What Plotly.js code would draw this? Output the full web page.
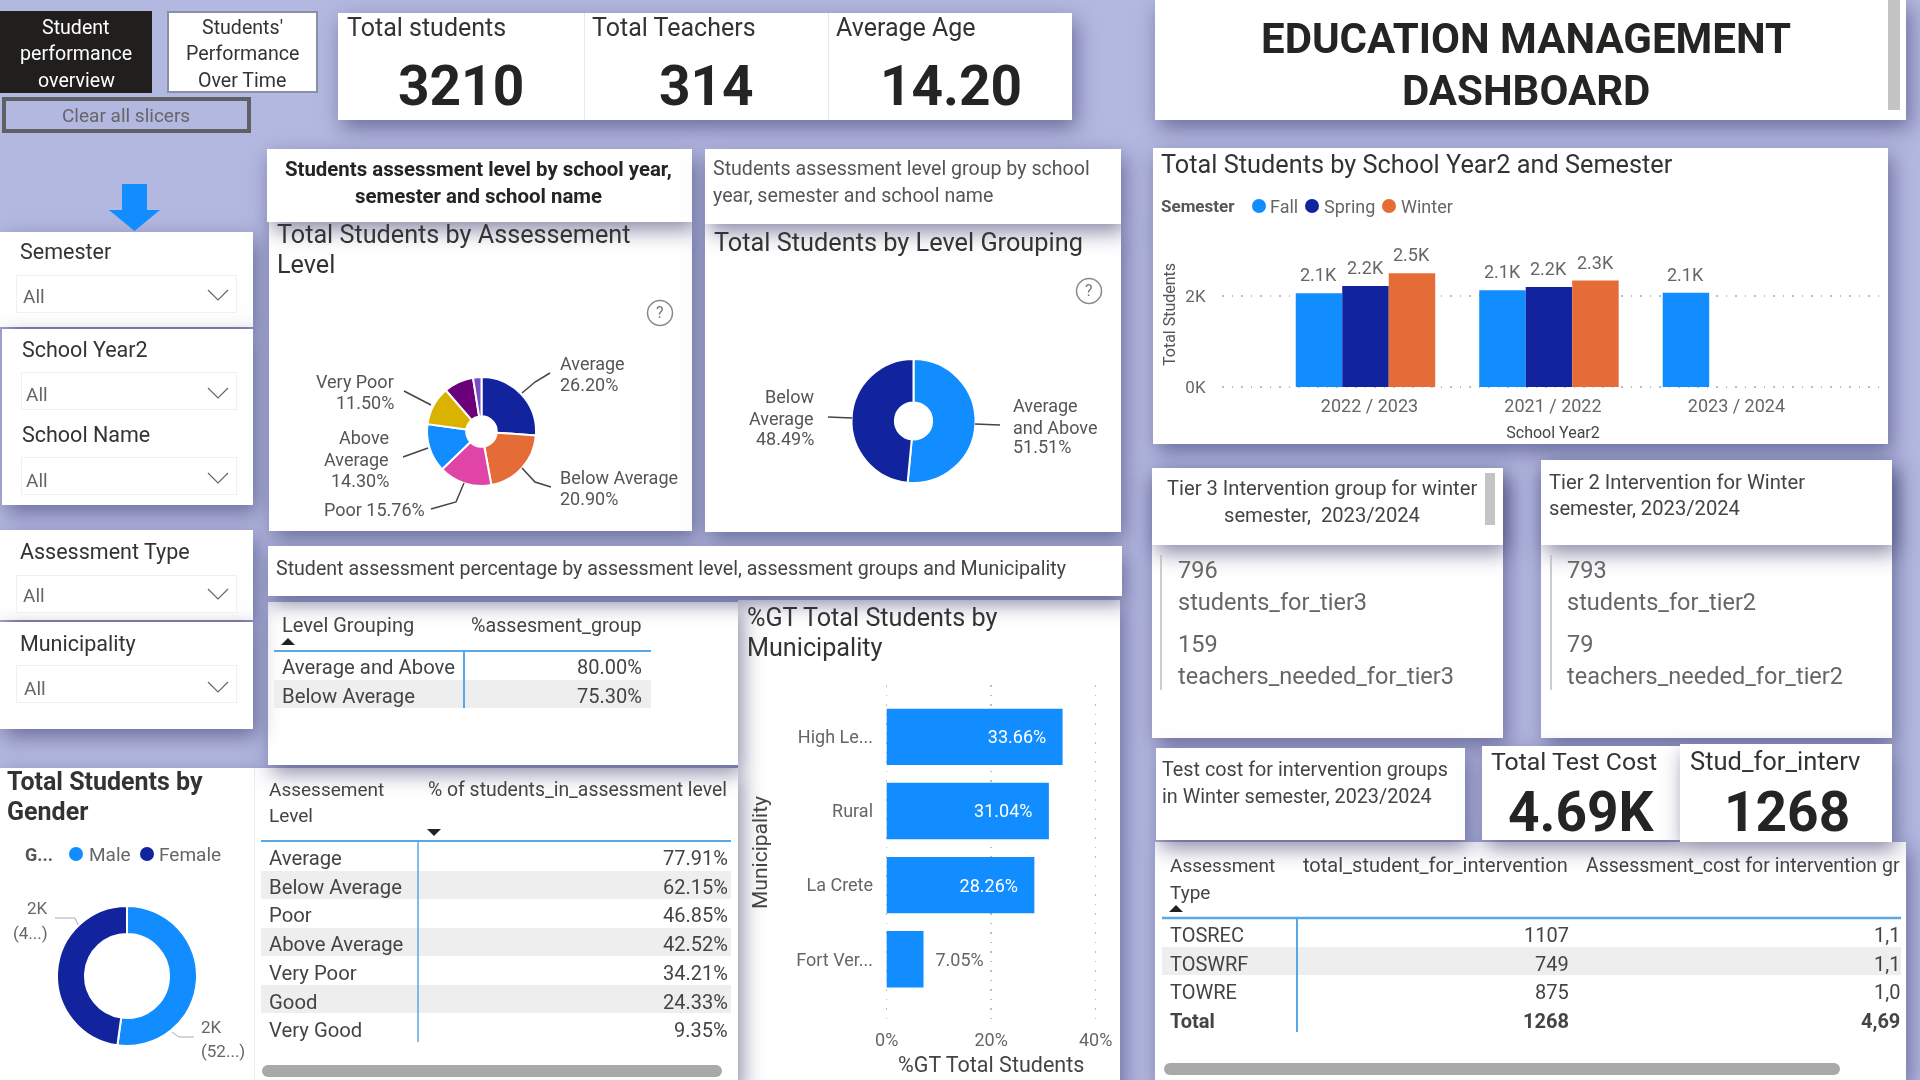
<!DOCTYPE html>
<html><head><meta charset="utf-8">
<script src="https://cdn.plot.ly/plotly-3.0.1.min.js"></script>
<style>
html,body{margin:0;padding:0;background:#b3b8e0;overflow:hidden}
#stage{position:relative;width:1920px;height:1080px;background:#b3b8e0;overflow:hidden;filter:blur(0.45px)}
#stage div.p{position:absolute;background:#fff}
#chart{position:absolute;left:0;top:0;width:1920px;height:1080px}
</style></head><body><div id="stage"><div id="chart"></div></div>
<script>
// ---------- data ----------
const levelLabels = ['Average','Below Average','Poor','Above Average','Very Poor','Good','Very Good'];
const levelShares = [26.20,20.90,15.76,14.30,11.50,8.84,2.50];
const levelColors = ['#12239E','#E66C37','#E044A7','#118DFF','#D9B300','#6B007B','#744EC2'];
const groupLabels = ['Average and Above','Below Average'];
const groupShares = [51.51,48.49];
const genderLabels = ['Male','Female'];
const genderShares = [52.2,47.8];
const schoolYears = ['2022 / 2023','2021 / 2022','2023 / 2024'];
const fallStudents = [2059,2125,2073];
const springStudents = [2220,2198,null];
const winterStudents = [2499,2340,null];
const municipalities = ['High Le...','Rural','La Crete','Fort Ver...'];
const municipalityShares = [33.66,31.04,28.26,7.05];
const groupTableNames = ['Average and Above','Below Average'];
const groupTableValues = ['80.00%','75.30%'];
const levelTableNames = ['Average','Below Average','Poor','Above Average','Very Poor','Good','Very Good'];
const levelTableValues = ['77.91%','62.15%','46.85%','42.52%','34.21%','24.33%','9.35%'];
const interventionTypes = ['TOSREC','TOSWRF','TOWRE','Total'];
const interventionStudents = ['1107','749','875','1268'];
const interventionCosts = ['1,1','1,1','1,0','4,69'];
const kpiTop = [['Total students','3210'],['Total Teachers','314'],['Average Age','14.20']];

// ---------- helpers ----------
const W=1920,H=1080, FONT='Roboto, sans-serif';
const px=x=>x/W, py=y=>1-y/H;
const anns=[], shapes=[];
function T(x,y,text,o={}){anns.push({x:px(x),y:py(y),xref:'paper',yref:'paper',text,showarrow:false,
  xanchor:o.a||'left',yanchor:'middle',align:o.a||'left',borderpad:0,
  font:{family:o.f||FONT,size:o.s||20,color:o.c||'#444',weight:o.b?700:400}});}
function L(pts,c='#444',w=1.5){const d=pts.map((p,i)=>(i?'L':'M')+px(p[0])+','+py(p[1])).join(' ');
  shapes.push({type:'path',xref:'paper',yref:'paper',path:d,line:{color:c,width:w}});}
function R(x0,y0,x1,y1,fill,layer='below'){shapes.push({type:'rect',xref:'paper',yref:'paper',x0:px(x0),x1:px(x1),y0:py(y0),y1:py(y1),fillcolor:fill,line:{width:0},layer});}
function Dot(x,y,r,c){shapes.push({type:'circle',xref:'paper',yref:'paper',x0:px(x-r),x1:px(x+r),y0:py(y+r),y1:py(y-r),fillcolor:c,line:{width:0}});}
function Ring(x,y,r){shapes.push({type:'circle',xref:'paper',yref:'paper',x0:px(x-r),x1:px(x+r),y0:py(y+r),y1:py(y-r),line:{color:'#8a8a8a',width:1.5}});T(x,y,'?',{a:'center',s:16,c:'#777'});}
function Tri(x,y,up){const s=up?-1:1;const d=`M${px(x-7)},${py(y-3*s)} L${px(x+7)},${py(y-3*s)} L${px(x)},${py(y+4*s)} Z`;
  shapes.push({type:'path',xref:'paper',yref:'paper',path:d,fillcolor:'#222',line:{width:0}});}
function Chev(x,y){L([[x-10,y-5],[x,y+5],[x+10,y-5]],'#666',1.2);}
function panel(x,y,w,h,o={}){const d=document.createElement('div');d.className='p';
  d.style.cssText=`left:${x}px;top:${y}px;width:${w}px;height:${h}px;box-shadow:${o.sh===0?'none':'4px 8px 20px rgba(60,60,110,.6)'};`+(o.css||'');
  document.getElementById('stage').insertBefore(d,document.getElementById('chart'));}

// ---------- panels (paint order) ----------
panel(738,600,382,490);
panel(0,768,738,320);
panel(254,768,1,312,{sh:0,css:'background:#ececec'});
panel(268,602,470,163);
panel(0,232,253,95);
panel(2,329,251,176);
panel(0,530,253,90);
panel(0,622,253,107);
panel(338,13,734,107);
panel(584,13,1,107,{sh:0,css:'background:#e8e8e8'});panel(828,13,1,107,{sh:0,css:'background:#e8e8e8'});
panel(1155,0,751,120);
panel(269,222,423,309);panel(267,149,425,73);
panel(705,224,416,308);panel(705,149,416,75);
panel(268,546,854,50);
panel(1153,148,735,296);
panel(1152,468,351,270);panel(1152,468,351,77);
panel(1541,460,351,278);panel(1541,460,351,85);
panel(1155,842,751,240);
panel(1156,748,309,92);panel(1482,746,198,94);panel(1680,744,212,98);
// dropdown boxes
[[16,275],[21,372],[21,457],[16,575],[16,665]].forEach(b=>panel(b[0],b[1],b[0]==16?221:216,38,{sh:0,css:'border:1px solid #f0f0f0;box-sizing:border-box'}));
// scroll bars
panel(262,1065,460,12,{sh:0,css:'background:#a9a9a9;border-radius:6px'});
panel(1164,1063,676,12,{sh:0,css:'background:#a9a9a9;border-radius:6px'});
panel(1888,0,12,110,{sh:0,css:'background:#c4c4c4'});
panel(1485,473,10,52,{sh:0,css:'background:#c4c4c4'});
// nav buttons
panel(0,11,152,82,{sh:0,css:'background:#201f1e'});
panel(167,11,151,82,{sh:0,css:'border:2px solid #8a8fa8;box-sizing:border-box'});
panel(2,97,249,36,{sh:0,css:'background:#b3b8e0;border:4px solid #5f6064;box-sizing:border-box'});

// ---------- text ----------
['Student','performance','overview'].forEach((t,i)=>T(76,27+i*26.5,t,{a:'center',c:'#fff',s:19.6}));
["Students'",'Performance','Over Time'].forEach((t,i)=>T(242,27+i*26.5,t,{a:'center',c:'#333',s:19.6}));
T(126,116,'Clear all slicers',{a:'center',c:'#666',s:19});
[346,591,835].forEach((x,i)=>{T(x,28,kpiTop[i][0],{s:25,c:'#333'});});
[461,706,951].forEach((x,i)=>{T(x,86,kpiTop[i][1],{a:'center',s:55,b:1,c:'#252423'});});
T(1526,38,'EDUCATION MANAGEMENT',{a:'center',s:42,b:1,c:'#252423'});
T(1526,90,'DASHBOARD',{a:'center',s:42,b:1,c:'#252423'});
// slicers
[[19,251,'Semester'],[21,349,'School Year2'],[21,434,'School Name'],[19,551,'Assessment Type'],[19,643,'Municipality']].forEach(s=>T(s[0],s[1],s[2],{s:21.5,c:'#333'}));
[[22,296],[25,395],[25,480],[22,595],[23,688]].forEach(s=>T(s[0],s[1],'All',{c:'#666',s:19}));
[296,394,479,595,688].forEach(y=>Chev(218,y-1));
// down arrow
shapes.push({type:'path',xref:'paper',yref:'paper',path:`M${px(122)},${py(184)} L${px(147)},${py(184)} L${px(147)},${py(210)} L${px(160)},${py(210)} L${px(134.5)},${py(231)} L${px(109)},${py(210)} L${px(122)},${py(210)} Z`,fillcolor:'#118DFF',line:{width:0}});
// captions
T(478,169,'Students assessment level by school year,',{a:'center',b:1,s:20.4,c:'#252423'});
T(478,196,'semester and school name',{a:'center',b:1,s:20.4,c:'#252423'});
T(712,169,'Students assessment level group by school',{s:19.6,c:'#555'});
T(712,196,'year, semester and school name',{s:19.6,c:'#555'});
T(276,235,'Total Students by Assessement',{s:25.2,c:'#333'});T(276,264,'Level',{s:25.2,c:'#333'});
T(713,242,'Total Students by Level Grouping',{s:25.3,c:'#333'});
Ring(660,313,12.5);Ring(1089,291,12.5);
T(275,568,'Student assessment percentage by assessment level, assessment groups and Municipality',{s:19.6,c:'#444'});
// level pie labels
const lp=levelShares.map(v=>v.toFixed(2)+'%');
const LB={s:18,c:'#555'}, LBR={a:'right',s:18,c:'#555'};
T(559,363,levelLabels[0],LB);T(559,385,lp[0],LB);
T(559,477,levelLabels[1],LB);T(559,498,lp[1],LB);
T(426,509,levelLabels[2]+' '+lp[2],LBR);
T(390,437,'Above',LBR);T(390,459,'Average',LBR);T(390,480,lp[3],LBR);
T(395,381,levelLabels[4],LBR);T(395,402,lp[4],LBR);
L([[522,393],[535,382],[550,373]]);L([[522,468],[535,482],[551,487]]);L([[464,483],[456,502],[431,509]]);L([[428,448],[403,457]]);L([[431,405],[404,391]]);
// group pie labels
T(815,396,'Below',LBR);T(815,418,'Average',LBR);T(815,438,groupShares[1].toFixed(2)+'%',LBR);
T(1012,405,'Average',LB);T(1012,427,'and Above',LB);T(1012,447,groupShares[0].toFixed(2)+'%',LB);
L([[828,417],[852,418]]);L([[975,424],[1000,425]]);
// group table
T(281,625,'Level Grouping');T(643,625,'%assesment_group',{a:'right',s:19.7});Tri(288,642,true);
R(274,680,651,708,'#eeeeee');L([[274,651],[651,651]],'#5aa7e6',2);L([[464,651],[464,708]],'#5aa7e6',2);
groupTableNames.forEach((n,i)=>{T(281,667+i*29,n,{s:20.3});T(643,667+i*29,groupTableValues[i],{a:'right'});});
// level table
T(268,789,'Assessement',{s:19});T(268,815,'Level',{s:19});T(728,789,'% of students_in_assessment level',{a:'right',s:19.4});Tri(434,832,false);
R(261,871,731,899,'#eeeeee');R(261,928,731,956,'#eeeeee');R(261,985,731,1013,'#eeeeee');
L([[261,841],[731,841]],'#5aa7e6',2);L([[418,841],[418,1042]],'#5aa7e6',1.5);
levelTableNames.forEach((n,i)=>{const y=858+i*28.7;T(268,y,n,{s:20.3});T(729,y,levelTableValues[i],{a:'right'});});
// gender
T(6,781,'Total Students by',{s:25,b:1,c:'#333'});T(6,811,'Gender',{s:25,b:1,c:'#333'});
T(24,854,'G...',{b:1,s:18,c:'#555'});
Dot(76,854,7,'#118DFF');T(88,854,genderLabels[0],{c:'#666',s:19});Dot(147,854,7,'#12239E');T(158,854,genderLabels[1],{c:'#666',s:19});
T(49,908,'2K',{a:'right',s:17,c:'#666'});T(49,933,'(4...)',{a:'right',s:17,c:'#666'});
T(200,1027,'2K',{s:17,c:'#666'});T(200,1051,'(52...)',{s:17,c:'#666'});
L([[55,918],[75,918],[78,925]],'#aaa',1);L([[172,1032],[179,1037],[194,1037]],'#aaa',1);
// year chart
T(1160,164,'Total Students by School Year2 and Semester',{s:25.3,c:'#333'});
T(1160,206,'Semester',{b:1,s:17,c:'#555'});
Dot(1259,206,7,'#118DFF');T(1269,206,'Fall',{s:18,c:'#666'});
Dot(1312,206,7,'#12239E');T(1323,206,'Spring',{s:18,c:'#666'});
Dot(1389,206,7,'#E66C37');T(1400,206,'Winter',{s:18,c:'#666'});
// value labels above the clustered bars, positioned by the axes
[[fallStudents,-46.5],[springStudents,0],[winterStudents,46.5]].forEach(([vals,shift])=>vals.forEach((v,i)=>{
  if(v==null)return;
  anns.push({xref:'x',yref:'y',x:schoolYears[i],y:v,xshift:shift,yshift:7,yanchor:'bottom',xanchor:'center',showarrow:false,borderpad:0,
    text:(v/1000).toFixed(1)+'K',font:{family:FONT,size:18,color:'#666'}});
}));
// municipality title
T(746,617,'%GT Total Students by',{s:25.2,c:'#333'});T(746,647,'Municipality',{s:25.2,c:'#333'});
// tier cards
T(1322,488,'Tier 3 Intervention group for winter',{a:'center',s:20.2});T(1322,515,'semester,  2023/2024',{a:'center',s:20.2});
T(1548,482,'Tier 2 Intervention for Winter',{s:20.2});T(1548,508,'semester, 2023/2024',{s:20.2});
L([[1161,555],[1161,690]],'#bbb',1.5);L([[1551,555],[1551,690]],'#bbb',1.5);
[[1177,['796','students_for_tier3','159','teachers_needed_for_tier3']],[1566,['793','students_for_tier2','79','teachers_needed_for_tier2']]].forEach(c=>{
  [570,602,644,676].forEach((y,i)=>T(c[0],y,c[1][i],{s:23.5,c:'#666'}));});
T(1161,770,'Test cost for intervention groups',{s:19.8});T(1161,796,'in Winter semester, 2023/2024',{s:19.8});
T(1490,761,'Total Test Cost',{s:24.8,c:'#333'});T(1689,761,'Stud_for_interv',{s:25.5,c:'#333'});
T(1581,812,'4.69K',{a:'center',s:55,b:1,c:'#252423'});T(1787,812,'1268',{a:'center',s:55,b:1,c:'#252423'});
// intervention table
T(1169,865,'Assessment',{s:19});T(1169,892,'Type',{s:19});Tri(1176,909,true);
T(1569,865,'total_student_for_intervention',{a:'right',s:20});T(1901,865,'Assessment_cost for intervention gr',{a:'right',s:19.5});
R(1162,947,1901,975,'#eeeeee');L([[1162,918],[1901,918]],'#5aa7e6',2.5);L([[1297,918],[1297,1032]],'#5aa7e6',2);
interventionTypes.forEach((n,i)=>{const y=935+i*28.5,b=i==3;T(1169,y,n,{b});T(1570,y,interventionStudents[i],{a:'right',b});T(1901,y,interventionCosts[i],{a:'right',b});});

// ---------- traces ----------
const pie=(labels,values,colors,cx,cy,r,hole)=>({type:'pie',labels,values,hole,sort:false,direction:'clockwise',rotation:0,textinfo:'none',showlegend:false,
  marker:{colors,line:{color:'#fff',width:2}},domain:{x:[px(cx-r),px(cx+r)],y:[py(cy+r),py(cy-r)]}});
const yearBar=(name,y,c)=>({type:'bar',name,x:schoolYears,y,marker:{color:c},cliponaxis:false,xaxis:'x',yaxis:'y',showlegend:false});
const traces=[
 pie(levelLabels,levelShares,levelColors,481.5,431.5,54.5,0.28),
 pie(groupLabels,groupShares,['#118DFF','#12239E'],913.5,421,62,0.3),
 pie(genderLabels,genderShares,['#118DFF','#12239E'],127,976,70,0.6),
 yearBar('Fall',fallStudents,'#118DFF'),yearBar('Spring',springStudents,'#12239E'),yearBar('Winter',winterStudents,'#E66C37'),
 {type:'bar',orientation:'h',y:municipalities,x:municipalityShares,marker:{color:'#118DFF'},xaxis:'x2',yaxis:'y2',showlegend:false,
  text:municipalityShares.map((v,i)=>i<3?v.toFixed(2)+'%\u00a0\u00a0\u00a0':'\u00a0\u00a0'+v.toFixed(2)+'%'),
  textposition:['inside','inside','inside','outside'],insidetextanchor:'end',constraintext:'none',cliponaxis:false,
  insidetextfont:{family:FONT,size:18,color:'#fff'},outsidetextfont:{family:FONT,size:18,color:'#666'}}
];
const DOTS='1.5px,8px';
const layout={width:W,height:H,margin:{l:0,r:0,t:0,b:0},paper_bgcolor:'rgba(0,0,0,0)',plot_bgcolor:'rgba(0,0,0,0)',showlegend:false,
 font:{family:FONT},barmode:'group',bargap:0.24,bargroupgap:0,annotations:anns,shapes,
 xaxis:{domain:[px(1222),px(1884)],anchor:'y',type:'category',range:[-0.782,2.826],showgrid:false,zeroline:false,ticks:'outside',ticklen:1,tickcolor:'rgba(0,0,0,0)',ticklabelshift:4,
   tickfont:{size:18,color:'#666'},title:{text:'School Year2',font:{size:16,color:'#444'},standoff:11}},
 yaxis:{domain:[py(388.82),py(240)],anchor:'x',range:[-40,3231],tickvals:[0,2000],ticktext:['0K','2K'],showgrid:true,griddash:DOTS,gridcolor:'#bdbdbd',gridwidth:1.5,zeroline:false,
   ticks:'outside',ticklen:12,tickcolor:'rgba(0,0,0,0)',tickfont:{size:17,color:'#666'},title:{text:'Total Students',font:{size:16,color:'#555'},standoff:5}},
 xaxis2:{domain:[px(885.65),px(1096.75)],anchor:'y2',range:[-0.2,40.2],tickvals:[0,20,40],ticktext:['0%','20%','40%'],showgrid:true,griddash:DOTS,gridcolor:'#bdbdbd',gridwidth:1.5,zeroline:false,
   ticks:'outside',ticklen:3,tickcolor:'rgba(0,0,0,0)',tickfont:{size:18,color:'#666'},title:{text:'%GT Total Students',font:{size:21.5,color:'#444'},standoff:8}},
 yaxis2:{domain:[py(1020),py(685)],anchor:'x2',type:'category',range:[3.82,-0.70],showgrid:false,zeroline:false,
   ticks:'outside',ticklen:8,tickcolor:'rgba(0,0,0,0)',tickfont:{size:18,color:'#666'},title:{text:'Municipality',font:{size:21,color:'#444'},standoff:22}}
};
Plotly.newPlot('chart',traces,layout,{displayModeBar:false,staticPlot:true});
</script></body></html>
